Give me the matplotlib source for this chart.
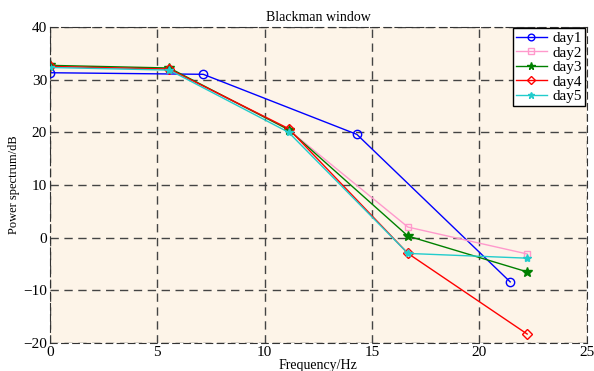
import matplotlib.pyplot as plt

plt.rcParams['font.family'] = ['Liberation Serif', 'DejaVu Serif']

# 频率数据
freq1 = [0, 7.14, 14.29, 21.43]
freq = [0, 5.56, 11.11, 16.67, 22.22]

day1 = [31.3, 31.0, 19.6, -8.4]
day2 = [32.5, 32.0, 20.5, 2.0, -3.1]
day3 = [32.7, 32.2, 20.5, 0.3, -6.5]
day4 = [32.5, 32.0, 20.7, -3.0, -18.3]
day5 = [32.3, 31.8, 20.0, -3.0, -3.9]


def main():
    fig = plt.figure(figsize=(5.94, 3.71), dpi=100)
    ax = fig.add_axes([0.084, 0.0755, 0.904, 0.852])
    ax.set_facecolor('#fdf4e8')

    ax.plot(freq1, day1, color='blue', marker='o', mfc='none', ms=6, lw=1, label='day1')
    ax.plot(freq, day2, color='#ff99cc', marker='s', mfc='none', ms=5, lw=1, label='day2')
    ax.plot(freq, day3, color='green', marker='*', ms=7, lw=1, label='day3')
    ax.plot(freq, day4, color='red', marker='D', mfc='none', ms=5, lw=1, label='day4')
    ax.plot(freq, day5, color='#22cccc', marker='*', ms=6, lw=1, label='day5')

    ax.set_xlim(0, 25)
    ax.set_ylim(-20, 40)
    ax.set_xticks([0, 5, 10, 15, 20, 25])
    ax.set_yticks([-20, -10, 0, 10, 20, 30, 40])
    ax.grid(True, linestyle=(0, (6, 4)), color='#444444', lw=1)
    for s in ax.spines.values():
        s.set_linestyle((0, (6, 4)))
        s.set_color('#333333')
    ax.tick_params(length=0, labelsize=11, pad=2)

    ax.set_title('Blackman window', fontsize=10, pad=4)
    ax.set_xlabel('Frequency/Hz', fontsize=10, labelpad=0)
    ax.set_ylabel('Power spectrum/dB', fontsize=9, labelpad=2)

    leg = ax.legend(loc='upper right', fontsize=11, fancybox=False, framealpha=1,
                    edgecolor='black', borderpad=0.2, labelspacing=0.05,
                    handlelength=2.0, handletextpad=0.4, borderaxespad=0.1,
                    markerscale=0.8)
    leg.get_frame().set_linewidth(1)

    fig.savefig('out.png', dpi=100)


if __name__ == '__main__':
    main()
